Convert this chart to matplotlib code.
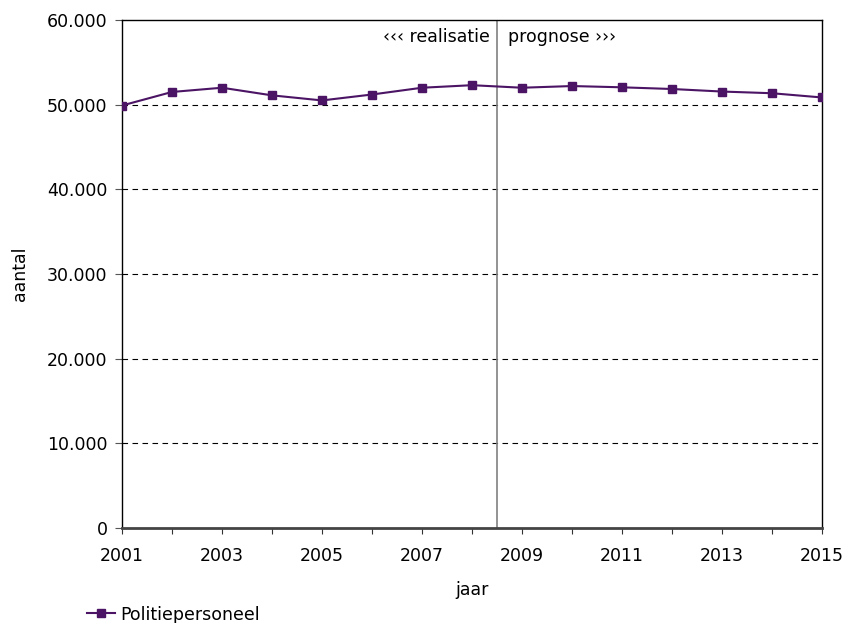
import numpy as np
import matplotlib
matplotlib.use("Agg")
import matplotlib.pyplot as plt

years = list(range(2001, 2016))
politie = [49900, 51500, 52000, 51100, 50500, 51200, 52000, 52300,
           52000, 52200, 52050, 51850, 51550, 51350, 50850]
split_year = 2008.5
yticks = [0, 10000, 20000, 30000, 40000, 50000, 60000]
ytick_labels = ["0", "10.000", "20.000", "30.000", "40.000", "50.000", "60.000"]

plt.rcParams["font.family"] = ["DejaVu Sans"]
plt.rcParams["font.size"] = 12.5

fig = plt.figure(figsize=(8.48, 6.23), dpi=100)
ax = fig.add_axes([122 / 848, 1 - 528 / 623, 700 / 848, 508 / 623])

ax.plot(years, politie, color="#4b1464", marker="s", markersize=5.5,
        linewidth=1.5, label="Politiepersoneel", zorder=3)

for v in yticks[1:-1]:
    ax.axhline(v, color="black", linestyle=(0, (5, 4)), linewidth=0.8, zorder=1)

ax.axvline(split_year, color="#808080", linewidth=1.2, zorder=2)
ax.text(split_year - 0.15, 59100, "\u2039\u2039\u2039 realisatie", ha="right", va="top")
ax.text(split_year + 0.22, 59100, "prognose \u203a\u203a\u203a", ha="left", va="top")

ax.set_xlim(2001, 2015)
ax.set_ylim(0, 60000)
ax.set_xticks(years)
ax.set_xticklabels([str(y) if (y - 2001) % 2 == 0 else "" for y in years])
ax.set_yticks(yticks)
ax.set_yticklabels(ytick_labels)
ax.tick_params(axis="y", direction="out", length=5, color="#555555", pad=5.5)
ax.tick_params(axis="x", direction="out", length=4, color="#333333", pad=10)

for s in ["left", "right", "top"]:
    ax.spines[s].set_color("black")
    ax.spines[s].set_linewidth(1)
ax.spines["bottom"].set_color("#444444")
ax.spines["bottom"].set_linewidth(2)

ax.set_xlabel("jaar", labelpad=11)
ax.set_ylabel("aantal", labelpad=13)

fig.legend(loc="lower left", bbox_to_anchor=(80 / 848, -0.012), frameon=False,
           handlelength=1.6, handletextpad=0.3, borderaxespad=0)

fig.savefig("out.png", dpi=100)
